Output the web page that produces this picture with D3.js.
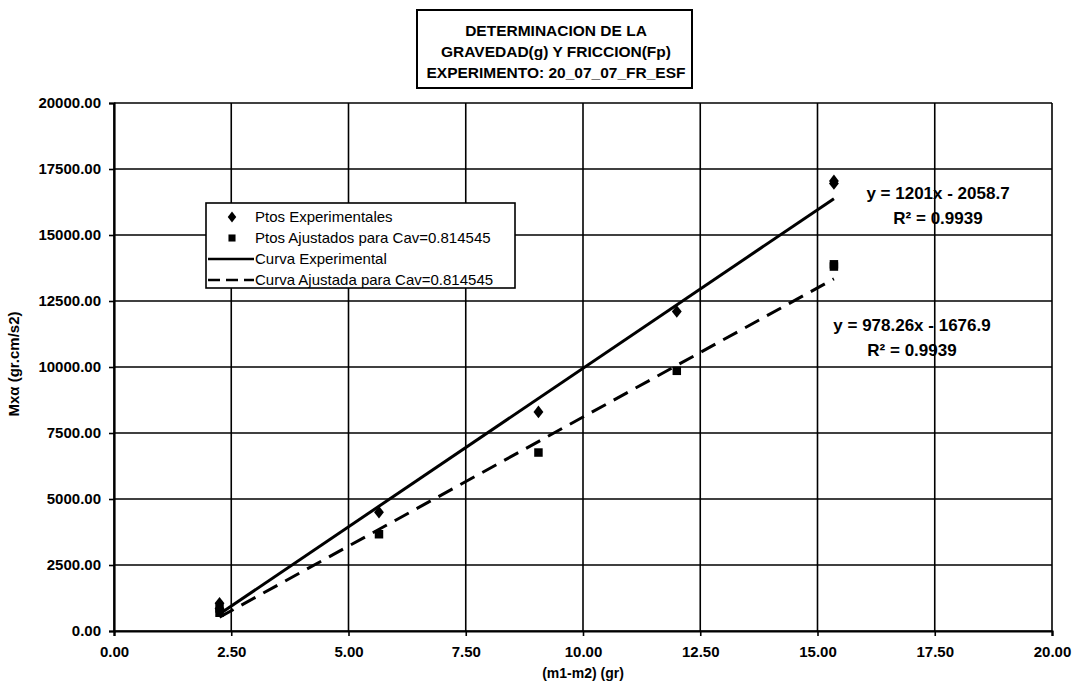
<!DOCTYPE html>
<html>
<head>
<meta charset="utf-8">
<script src="https://cdn.jsdelivr.net/npm/d3@7"></script>
<style>
  body { margin: 0; background: #fff; }
  svg { font-family: "Liberation Sans", Arial, sans-serif; }
</style>
</head>
<body>
<div id="chart-area"></div>
<script>
// data
const massDiff = [2.25, 2.25, 5.65, 9.05, 12.0, 15.35, 15.35];
const expPoints = [1050, 850, 4500, 8300, 12100, 16950, 17050];
const adjPoints = [855, 692, 3665, 6760, 9855, 13805, 13890];

// trendlines as printed on the chart: [slope, intercept]
const expTrend = [1201, -2058.7];
const adjTrend = [978.26, -1676.9];
const trendRange = [2.25, 15.35];

const xTicks = [0, 2.5, 5, 7.5, 10, 12.5, 15, 17.5, 20];
const yTicks = [0, 2500, 5000, 7500, 10000, 12500, 15000, 17500, 20000];

const titleLines = ["DETERMINACION DE LA", "GRAVEDAD(g) Y FRICCION(Fp)", "EXPERIMENTO: 20_07_07_FR_ESF"];
const legendLabels = ["Ptos Experimentales", "Ptos Ajustados para Cav=0.814545",
                      "Curva Experimental", "Curva Ajustada para Cav=0.814545"];

// fat excel-like diamond
const fatDiamond = {
  draw(context, size) {
    const w = Math.sqrt(size) * 0.55;
    const h = Math.sqrt(size) * 0.7;
    context.moveTo(0, -h);
    context.lineTo(w, 0);
    context.lineTo(0, h);
    context.lineTo(-w, 0);
    context.closePath();
  }
};

const drawGraph = () => {
  const width = 1075;
  const height = 691;
  const margin = { top: 103, left: 114, right: 23, bottom: 60 };
  const plotWidth = width - margin.left - margin.right;
  const plotHeight = height - margin.top - margin.bottom;

  const svg = d3.select("#chart-area")
                .append("svg")
                .attr("width", width)
                .attr("height", height);

  const xScale = d3.scaleLinear().domain([0, 20]).range([0, plotWidth]);
  const yScale = d3.scaleLinear().domain([0, 20000]).range([plotHeight, 0]);

  const plot = svg.append("g")
                  .attr("transform", `translate(${margin.left},${margin.top})`);

  // grid
  plot.append("g")
      .selectAll("line")
      .data(yTicks)
      .enter()
      .append("line")
      .attr("x1", 0).attr("x2", plotWidth)
      .attr("y1", d => yScale(d)).attr("y2", d => yScale(d))
      .attr("stroke", "#000").attr("stroke-width", 1.6);

  plot.append("g")
      .selectAll("line")
      .data(xTicks)
      .enter()
      .append("line")
      .attr("y1", 0).attr("y2", plotHeight)
      .attr("x1", d => xScale(d)).attr("x2", d => xScale(d))
      .attr("stroke", "#000").attr("stroke-width", 1.6);

  // axes
  const axisX = d3.axisBottom(xScale)
                  .tickValues(xTicks)
                  .tickSize(5)
                  .tickPadding(10)
                  .tickFormat(d3.format(".2f"));
  const axisY = d3.axisLeft(yScale)
                  .tickValues(yTicks)
                  .tickSize(5)
                  .tickPadding(8)
                  .tickFormat(d3.format(".2f"));

  const gx = plot.append("g")
                 .attr("transform", `translate(0,${plotHeight})`)
                 .call(axisX);
  const gy = plot.append("g").call(axisY);

  [gx, gy].forEach(g => {
    g.select(".domain").attr("stroke", "#000").attr("stroke-width", 2.2);
    g.selectAll(".tick line").attr("stroke", "#000").attr("stroke-width", 1.6);
    g.selectAll(".tick text")
     .attr("fill", "#000")
     .style("font-size", "15px")
     .style("font-weight", "bold");
  });

  svg.append("text")
     .attr("text-anchor", "middle")
     .attr("x", margin.left + xScale(10))
     .attr("y", 678)
     .style("font-size", "14px")
     .style("font-weight", "bold")
     .text("(m1-m2) (gr)");

  svg.append("text")
     .attr("text-anchor", "middle")
     .attr("transform", `translate(19,${margin.top + plotHeight / 2 - 3}) rotate(-90)`)
     .style("font-size", "15px")
     .style("font-weight", "bold")
     .text("Mxα (gr.cm/s2)");

  // trendlines
  const trendLine = coef => trendRange.map(x => [x, coef[0] * x + coef[1]]);
  const line = d3.line().x(d => xScale(d[0])).y(d => yScale(d[1]));

  plot.append("path")
      .attr("d", line(trendLine(expTrend)))
      .attr("stroke", "#000").attr("stroke-width", 3).attr("fill", "none");

  plot.append("path")
      .attr("d", line(trendLine(adjTrend)))
      .attr("stroke", "#000").attr("stroke-width", 3).attr("fill", "none")
      .attr("stroke-dasharray", "16,9");

  // points
  const diamond = d3.symbol().type(fatDiamond).size(80);
  const square = d3.symbol().type(d3.symbolSquare).size(72);

  plot.append("g")
      .selectAll("path")
      .data(expPoints)
      .enter()
      .append("path")
      .attr("d", diamond)
      .attr("transform", (d, i) => `translate(${xScale(massDiff[i])},${yScale(d)})`)
      .attr("fill", "#000");

  plot.append("g")
      .selectAll("path")
      .data(adjPoints)
      .enter()
      .append("path")
      .attr("d", square)
      .attr("transform", (d, i) => `translate(${xScale(massDiff[i])},${yScale(d)})`)
      .attr("fill", "#000");

  // equations
  const eqs = [
    { lines: ["y = 1201x - 2058.7", "R² = 0.9939"], x: 938, y: 199 },
    { lines: ["y = 978.26x - 1676.9", "R² = 0.9939"], x: 912, y: 331 }
  ];
  eqs.forEach(eq => {
    eq.lines.forEach((t, i) => {
      svg.append("text")
         .attr("text-anchor", "middle")
         .attr("x", eq.x)
         .attr("y", eq.y + i * 25)
         .style("font-size", "17px")
         .style("font-weight", "bold")
         .text(t);
    });
  });

  // legend
  const legend = svg.append("g").attr("transform", "translate(206,203)");
  legend.append("rect")
        .attr("width", 309).attr("height", 85)
        .attr("fill", "#fff").attr("stroke", "#000").attr("stroke-width", 1.6);

  const legendRows = legend.selectAll("g")
                           .data(legendLabels)
                           .enter()
                           .append("g")
                           .attr("transform", (d, i) => `translate(0,${14 + i * 21})`);

  legendRows.append("text")
            .attr("x", 49)
            .attr("y", 5)
            .style("font-size", "15px")
            .text(d => d);

  legendRows.filter((d, i) => i === 0).append("path")
            .attr("d", d3.symbol().type(fatDiamond).size(60))
            .attr("transform", "translate(26,0)");
  legendRows.filter((d, i) => i === 1).append("path")
            .attr("d", d3.symbol().type(d3.symbolSquare).size(50))
            .attr("transform", "translate(26,0)");
  legendRows.filter((d, i) => i === 2).append("line")
            .attr("x1", 2).attr("x2", 48).attr("y1", 0).attr("y2", 0)
            .attr("stroke", "#000").attr("stroke-width", 2.5);
  legendRows.filter((d, i) => i === 3).append("line")
            .attr("x1", 2).attr("x2", 48).attr("y1", 0).attr("y2", 0)
            .attr("stroke", "#000").attr("stroke-width", 2.5)
            .attr("stroke-dasharray", "12,6");

  // title
  const title = svg.append("g");
  title.append("rect")
       .attr("x", 417).attr("y", 10)
       .attr("width", 275).attr("height", 78)
       .attr("fill", "#fff").attr("stroke", "#000").attr("stroke-width", 2);
  title.selectAll("text")
       .data(titleLines)
       .enter()
       .append("text")
       .attr("text-anchor", "middle")
       .attr("x", 556)
       .attr("y", (d, i) => 36 + i * 21)
       .style("font-size", "15.5px")
       .style("font-weight", "bold")
       .text(d => d);
};

drawGraph();
</script>
</body>
</html>
